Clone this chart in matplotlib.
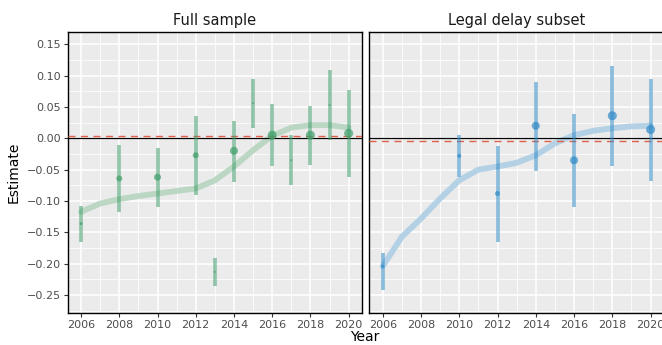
import numpy as np
import matplotlib.pyplot as plt

# Full sample estimates
full_year = [2006, 2008, 2010, 2012, 2013, 2014, 2015, 2016, 2017, 2018, 2019, 2020]
full_est = [-0.136, -0.064, -0.062, -0.027, -0.213, -0.020, 0.056, 0.005, -0.035, 0.005, 0.053, 0.008]
full_lo = [-0.166, -0.118, -0.110, -0.090, -0.235, -0.070, 0.016, -0.044, -0.075, -0.042, -0.002, -0.062]
full_hi = [-0.108, -0.010, -0.015, 0.036, -0.191, 0.028, 0.095, 0.054, 0.005, 0.052, 0.109, 0.077]
full_wt = [3, 6, 7, 6, 2, 8, 2, 9, 2, 9, 2, 9]
full_smooth_yr = [2006, 2007, 2008, 2009, 2010, 2011, 2012, 2013, 2014, 2015, 2016, 2017, 2018, 2019, 2020]
full_smooth = [-0.117, -0.104, -0.097, -0.092, -0.088, -0.084, -0.080, -0.067, -0.045, -0.019, 0.004, 0.017, 0.021, 0.021, 0.017]
full_mean = 0.003

# Legal delay subset estimates
legal_year = [2006, 2010, 2012, 2014, 2016, 2018, 2020]
legal_est = [-0.204, -0.028, -0.088, 0.020, -0.035, 0.036, 0.014]
legal_lo = [-0.242, -0.062, -0.165, -0.052, -0.109, -0.044, -0.068]
legal_hi = [-0.183, 0.005, -0.012, 0.089, 0.039, 0.115, 0.095]
legal_wt = [3, 4, 5, 8, 8, 9, 9]
legal_smooth_yr = [2006, 2007, 2008, 2009, 2010, 2011, 2012, 2013, 2014, 2015, 2016, 2017, 2018, 2019, 2020]
legal_smooth = [-0.204, -0.157, -0.128, -0.096, -0.067, -0.050, -0.045, -0.039, -0.027, -0.008, 0.005, 0.012, 0.016, 0.019, 0.020]
legal_mean = -0.004

GREEN = "#3f9e6a"
BLUE = "#2f8ac8"
RED = "#e0604a"
PANEL = "#ebebeb"
TICK_COL = "#4d4d4d"

fig = plt.figure(figsize=(6.62, 3.45), dpi=100)
W, H = 662, 345
ax1 = fig.add_axes([67.7 / W, 1 - 312.7 / H, (362 - 67.7) / W, (312.7 - 32.3) / H])
ax2 = fig.add_axes([369.3 / W, 1 - 312.7 / H, (664 - 369.3) / W, (312.7 - 32.3) / H])


def draw_panel(ax, yr, est, lo, hi, wt, syr, sm, mean, color, smooth_color, title):
    ax.set_facecolor(PANEL)
    ax.set_xlim(2005.3, 2020.7)
    ax.set_ylim(-0.278, 0.169)
    ax.set_xticks(np.arange(2006, 2021, 2))
    ax.set_xticks(np.arange(2007, 2021, 2), minor=True)
    ax.set_yticks([0.15, 0.10, 0.05, 0.00, -0.05, -0.10, -0.15, -0.20, -0.25])
    ax.set_yticks([0.125, 0.075, 0.025, -0.025, -0.075, -0.125, -0.175, -0.225, -0.275], minor=True)
    ax.grid(True, which="major", color="white", linewidth=1.1, zorder=0)
    ax.grid(True, which="minor", color="white", linewidth=0.55, zorder=0)
    ax.set_axisbelow(True)
    for s in ax.spines.values():
        s.set_color("black")
        s.set_linewidth(1.0)
    ax.tick_params(which="major", length=3, width=0.8, color="#333333",
                   labelsize=8, labelcolor=TICK_COL, pad=2)
    ax.tick_params(which="minor", length=0)

    ax.plot(syr, sm, color=smooth_color, linewidth=4.2, alpha=0.85,
            solid_capstyle="round", zorder=2)
    ax.axhline(0, color="black", linewidth=0.9, zorder=3)
    ax.axhline(mean, color=RED, linewidth=1.0, linestyle=(0, (5, 4)), zorder=3)
    ax.vlines(yr, lo, hi, color=color, linewidth=2.6, alpha=0.55, zorder=4)
    sizes = (np.array(wt) * 0.72) ** 2
    ax.scatter(yr, est, s=sizes, color=color, alpha=0.7, linewidths=0, zorder=5)
    ax.set_title(title, fontsize=10.5, color="#1a1a1a", pad=5)


draw_panel(ax1, full_year, full_est, full_lo, full_hi, full_wt,
           full_smooth_yr, full_smooth, full_mean, GREEN, "#b3d4bd", "Full sample")
draw_panel(ax2, legal_year, legal_est, legal_lo, legal_hi, legal_wt,
           legal_smooth_yr, legal_smooth, legal_mean, BLUE, "#a9cce3", "Legal delay subset")
ax2.set_yticklabels([])
ax2.tick_params(axis="y", length=0)

ax1.set_ylabel("Estimate", fontsize=10, labelpad=4)
fig.text(365 / W, 1 - 337 / H, "Year", ha="center", va="center", fontsize=10)

fig.savefig("out.png", dpi=100)
